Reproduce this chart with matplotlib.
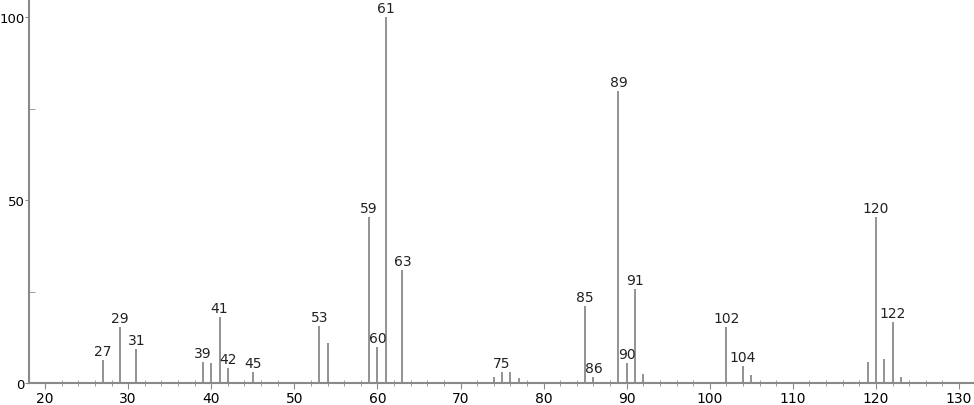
import matplotlib.pyplot as plt
from matplotlib.ticker import MultipleLocator

# m/z og relativ intensitet
mz = [27, 29, 31, 39, 40, 41, 42, 45, 53, 54, 59, 60, 61, 63,
      74, 75, 76, 77, 85, 86, 89, 90, 91, 92,
      102, 104, 105, 119, 120, 121, 122, 123]
intens = [6.3, 15.3, 9.3, 5.7, 5.4, 18.0, 4.1, 3.0, 15.6, 10.9, 45.4, 9.8, 100.0, 30.9,
          1.6, 3.0, 2.9, 1.5, 21.0, 1.6, 79.8, 5.4, 25.7, 2.4,
          15.2, 4.7, 2.2, 5.7, 45.4, 6.6, 16.7, 1.7]

# Toppene som har merkelapp
merket = [27, 29, 31, 39, 41, 42, 45, 53, 59, 60, 61, 63, 75,
          85, 86, 89, 90, 91, 102, 104, 120, 122]

grey = "#8a8a8a"

fig = plt.figure(figsize=(9.74, 4.06), dpi=100)
ax = fig.add_axes([0.0298, 0.054, 0.9702, 0.941])

ax.vlines(mz, 0, intens, color=grey, linewidth=1.3)

for m, h in zip(mz, intens):
    if m in merket:
        ax.text(m, h + 0.6, str(m), ha="center", va="bottom", fontsize=10, color="#222222")

ax.set_xlim(18.07, 131.8)
ax.set_ylim(0, 104.4)

ax.xaxis.set_major_locator(MultipleLocator(10))
ax.xaxis.set_minor_locator(MultipleLocator(2))
ax.yaxis.set_major_locator(MultipleLocator(50))
ax.yaxis.set_minor_locator(MultipleLocator(25))

for side in ["top", "right"]:
    ax.spines[side].set_visible(False)
for side in ["left", "bottom"]:
    ax.spines[side].set_color(grey)
    ax.spines[side].set_linewidth(1.5)

ax.tick_params(axis="x", which="major", direction="out", length=4, color=grey, labelsize=10, pad=2)
ax.tick_params(axis="x", which="minor", direction="inout", length=4, color=grey)
ax.tick_params(axis="y", which="major", direction="out", length=3, color=grey, labelsize=9.5, pad=0)
ax.tick_params(axis="y", which="minor", direction="in", length=4, color=grey)

fig.savefig("out.png", dpi=100)
